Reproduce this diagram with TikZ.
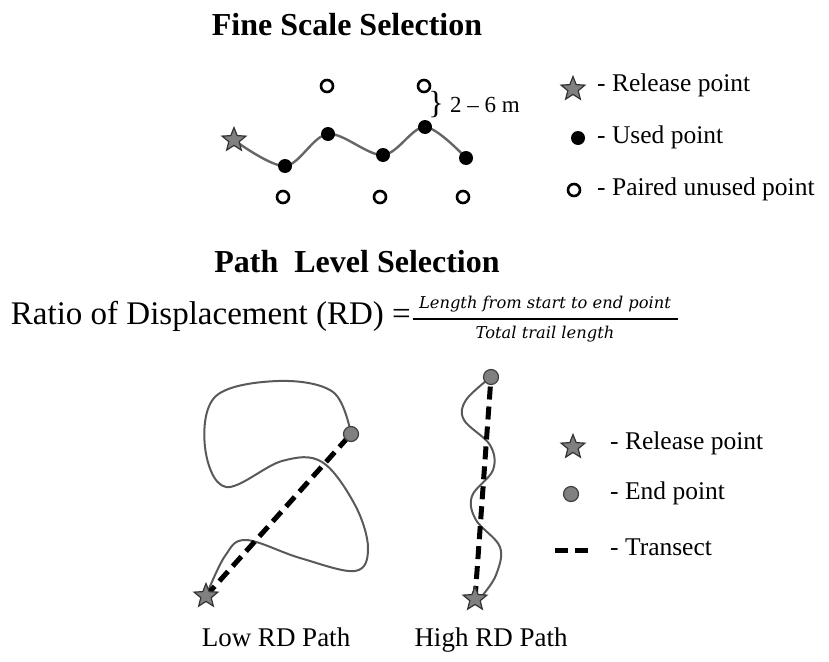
\documentclass[tikz,border=0pt]{standalone}
\usepackage{fontspec}
\setmainfont{Liberation Serif}
\newfontfamily\fracfont{DejaVu Serif}
\usetikzlibrary{shapes.geometric,backgrounds}
\tikzset{
  relstar/.style={star,star points=5,star point ratio=2.3,minimum size=25pt,inner sep=0pt,fill=black!50,draw=black!80,line width=1.2pt},
  usedpt/.style={circle,fill=black,minimum size=14pt,inner sep=0pt},
  unusedpt/.style={circle,draw=black,line width=2.6pt,minimum size=12pt,inner sep=0pt},
  endpt/.style={circle,fill=black!50,draw=black!75,line width=1.2pt,minimum size=15pt,inner sep=0pt},
  trail/.style={draw=black!60,line width=2.4pt},
  thintrail/.style={draw=black!65,line width=2pt},
  transect/.style={line width=5pt,dash pattern=on 13pt off 7pt},
  legtext/.style={anchor=west,font=\fontsize{25.5}{28}\selectfont,inner sep=0pt},
  titletext/.style={font=\fontsize{32}{34}\selectfont\bfseries,inner sep=0pt},
  labtext/.style={anchor=base,font=\fontsize{27}{30}\selectfont,inner sep=0pt}
}
\begin{document}
\begin{tikzpicture}[x=1pt,y=-1pt]
\path[use as bounding box] (0,0) rectangle (829,661);
% ---- Fine scale ----
\node[titletext] (t1) at (347,25) {Fine Scale Selection};
\node[relstar] (rs) at (234,140) {};
\node[usedpt] (u1) at (285,166) {};
\node[usedpt] (u2) at (328,134) {};
\node[usedpt] (u3) at (383,155) {};
\node[usedpt] (u4) at (425,127) {};
\node[usedpt] (u5) at (466,158) {};
\node[unusedpt] (o1) at (327,86) {};
\node[unusedpt] (o2) at (424,86) {};
\node[unusedpt] (o3) at (283,197) {};
\node[unusedpt] (o4) at (380,197) {};
\node[unusedpt] (o5) at (463,197) {};
\begin{pgfonlayer}{background}
\draw[trail] plot[smooth,tension=0.55] coordinates {(rs.center) (u1.center) (u2.center) (u3.center) (u4.center) (u5.center)};
\end{pgfonlayer}
\node[font=\fontsize{32}{34}\selectfont,inner sep=0pt] (br) at (436,105) {\}};
\node[anchor=west,font=\fontsize{23}{26}\selectfont,inner sep=0pt] (dist) at (450,105) {2 -- 6 m};
% legend 1
\node[relstar] (ls1) at (573,89) {};
\node[legtext] (lt1) at (597,85) {- Release point};
\node[usedpt] (ls2) at (578,138) {};
\node[legtext] (lt2) at (597,137) {- Used point};
\node[unusedpt] (ls3) at (574,190) {};
\node[legtext] (lt3) at (597,189) {- Paired unused point};
% ---- Path level ----
\node[titletext] (t2) at (357,262) {Path\ \ Level Selection};
\node[anchor=east,font=\fontsize{33}{35}\selectfont,inner sep=0pt] (rd) at (411,316) {Ratio of Displacement (RD) =};
\node[font=\fontsize{16.3}{18}\selectfont\fracfont\itshape,inner sep=0pt] (num) at (545,304) {Length from start to end point};
\node[font=\fontsize{16.3}{18}\selectfont\fracfont\itshape,inner sep=0pt] (den) at (545,334) {Total trail length};
\coordinate (fl) at (413,319);
\coordinate (fr) at (678,319);
\draw[line width=1.5pt] (fl) -- (fr);
% Low RD path
\node[relstar] (s1) at (206,596) {};
\node[endpt] (e1) at (351,434) {};
\begin{pgfonlayer}{background}
\draw[thintrail] plot[smooth,tension=0.6] coordinates {(s1.center) (225,556) (246,540) (300,558) (355,571) (368,548) (355,505) (322,462) (282,461) (226,487) (205,447) (216,396) (278,381) (333,392) (351,434)};
\draw[transect] (s1.center) -- (e1.center);
\end{pgfonlayer}
% High RD path
\node[relstar] (s2) at (475,599) {};
\node[endpt] (e2) at (491,377) {};
\begin{pgfonlayer}{background}
\draw[thintrail] plot[smooth,tension=0.6] coordinates {(e2.center) (466,400) (464,420) (490,445) (493,470) (472,496) (476,520) (500,547) (496,575) (482,596)};
\draw[transect] (s2.center) -- (e2.center);
\end{pgfonlayer}
\node[labtext] (lab1) at (276,646) {Low RD Path};
\node[labtext] (lab2) at (491,646) {High RD Path};
% legend 2
\node[relstar] (ls4) at (573,447) {};
\node[legtext] (lt4) at (610,443) {- Release point};
\node[endpt] (ls5) at (571,494) {};
\node[legtext] (lt5) at (610,493) {- End point};
\coordinate (d1) at (555,550);
\coordinate (d2) at (592,550);
\draw[transect] (d1) -- (d2);
\node[legtext] (lt6) at (610,547) {- Transect};
\end{tikzpicture}
\end{document}
